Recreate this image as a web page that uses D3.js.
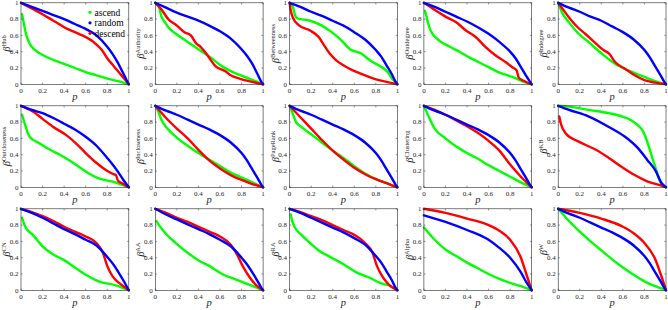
<!DOCTYPE html>
<html>
<head>
<meta charset="utf-8">
<script src="https://cdn.jsdelivr.net/npm/d3@7"></script>
<style>
  body { margin: 0; background: #fff; }
  svg { display: block; font-family: "Liberation Serif", "Times New Roman", serif; }
</style>
</head>
<body>
<svg id="chart" width="668" height="310"></svg>
<script>
// metric used for the ordering, one panel each (row by row)
const metrics = ['Hub', 'Authority', 'Betweenness', 'Outdegree', 'Indegree',
                 'Outcloseness', 'Incloseness', 'PageRank', 'Clustering', 'KB',
                 'CN', 'AA', 'RA', 'Alpha', 'W'];

const seriesNames = ['ascend', 'random', 'descend'];
const seriesColours = ['#00ff00', '#0000ff', '#ff0000'];

const tickValues = [0, 0.2, 0.4, 0.6, 0.8, 1];
const tickLabels = ['0', '0.2', '0.4', '0.6', '0.8', '1'];

// [p, beta] pairs, one list per panel
const ascendCurves = [
  [[0.01,0.86],[0.02,0.79],[0.03,0.72],[0.05,0.6],[0.08,0.5],[0.1,0.46],[0.15,0.4],[0.2,0.36],[0.3,0.3],[0.4,0.25],[0.5,0.2],[0.6,0.15],[0.7,0.11],[0.8,0.07],[0.9,0.04],[1,0]],
  [[0,1],[0.02,0.97],[0.04,0.93],[0.05,0.86],[0.07,0.8],[0.08,0.78],[0.12,0.7],[0.19,0.62],[0.3,0.52],[0.41,0.42],[0.5,0.34],[0.62,0.22],[0.75,0.13],[0.87,0.07],[1,0]],
  [[0,1],[0.03,0.95],[0.05,0.85],[0.07,0.81],[0.19,0.78],[0.3,0.72],[0.39,0.64],[0.48,0.54],[0.56,0.43],[0.66,0.38],[0.75,0.29],[0.83,0.23],[0.91,0.15],[0.95,0.07],[1,0]],
  [[0.01,0.9],[0.03,0.8],[0.05,0.7],[0.08,0.62],[0.14,0.54],[0.24,0.46],[0.33,0.4],[0.42,0.33],[0.51,0.27],[0.6,0.21],[0.69,0.15],[0.82,0.09],[0.91,0.04],[1,0]],
  [[0,1],[0.04,0.87],[0.1,0.76],[0.19,0.62],[0.28,0.52],[0.41,0.37],[0.53,0.25],[0.65,0.17],[0.8,0.09],[0.9,0.04],[1,0]],
  [[0.01,0.89],[0.04,0.76],[0.08,0.62],[0.17,0.54],[0.27,0.46],[0.36,0.4],[0.45,0.33],[0.54,0.25],[0.63,0.17],[0.72,0.11],[0.85,0.07],[1,0]],
  [[0,1],[0.03,0.92],[0.06,0.82],[0.1,0.74],[0.2,0.61],[0.3,0.51],[0.4,0.42],[0.5,0.34],[0.6,0.26],[0.7,0.18],[0.8,0.12],[0.9,0.06],[1,0]],
  [[0,1],[0.03,0.9],[0.06,0.8],[0.1,0.75],[0.2,0.65],[0.3,0.55],[0.4,0.45],[0.5,0.36],[0.6,0.26],[0.7,0.17],[0.8,0.1],[0.9,0.05],[1,0]],
  [[0,1],[0.05,0.85],[0.1,0.72],[0.2,0.6],[0.3,0.5],[0.4,0.42],[0.5,0.35],[0.6,0.27],[0.7,0.2],[0.8,0.13],[0.9,0.06],[1,0]],
  [[0,1],[0.1,0.99],[0.28,0.95],[0.47,0.91],[0.59,0.87],[0.68,0.82],[0.74,0.76],[0.79,0.68],[0.82,0.58],[0.85,0.46],[0.88,0.33],[0.91,0.21],[0.94,0.09],[0.97,0.02],[1,0]],
  [[0.01,0.89],[0.04,0.78],[0.11,0.68],[0.2,0.54],[0.3,0.44],[0.4,0.37],[0.51,0.27],[0.6,0.19],[0.72,0.11],[0.88,0.06],[1,0]],
  [[0.01,0.85],[0.04,0.79],[0.1,0.69],[0.19,0.58],[0.3,0.46],[0.41,0.36],[0.5,0.3],[0.62,0.2],[0.75,0.13],[0.87,0.07],[1,0]],
  [[0.01,0.93],[0.02,0.87],[0.05,0.77],[0.11,0.68],[0.19,0.58],[0.28,0.48],[0.39,0.4],[0.5,0.32],[0.62,0.22],[0.75,0.15],[0.84,0.09],[0.94,0.05],[1,0]],
  [[0,0.77],[0.1,0.62],[0.2,0.5],[0.3,0.42],[0.4,0.34],[0.5,0.27],[0.6,0.2],[0.7,0.14],[0.8,0.09],[0.9,0.05],[1,0]],
  [[0,1],[0.1,0.85],[0.2,0.72],[0.3,0.6],[0.4,0.49],[0.5,0.38],[0.6,0.28],[0.7,0.19],[0.8,0.11],[0.9,0.05],[1,0]]
];

const randomCurves = [
  [[0,1],[0.1,0.95],[0.2,0.9],[0.3,0.85],[0.4,0.8],[0.5,0.74],[0.6,0.68],[0.7,0.6],[0.8,0.46],[0.85,0.37],[0.9,0.26],[0.95,0.13],[0.98,0.05],[1,0]],
  [[0,1],[0.1,0.94],[0.2,0.88],[0.3,0.83],[0.4,0.78],[0.5,0.72],[0.6,0.65],[0.7,0.56],[0.8,0.43],[0.85,0.35],[0.9,0.25],[0.95,0.12],[0.98,0.04],[1,0]],
  [[0,1],[0.1,0.95],[0.2,0.89],[0.3,0.84],[0.4,0.78],[0.5,0.72],[0.6,0.64],[0.7,0.55],[0.8,0.42],[0.85,0.34],[0.9,0.23],[0.95,0.12],[0.98,0.04],[1,0]],
  [[0,1],[0.1,0.95],[0.2,0.89],[0.3,0.83],[0.4,0.77],[0.5,0.7],[0.6,0.62],[0.7,0.52],[0.8,0.4],[0.85,0.32],[0.9,0.21],[0.95,0.1],[0.98,0.04],[1,0]],
  [[0,1],[0.1,0.94],[0.2,0.89],[0.3,0.83],[0.4,0.78],[0.5,0.71],[0.6,0.64],[0.7,0.55],[0.8,0.42],[0.85,0.33],[0.9,0.22],[0.95,0.11],[0.98,0.04],[1,0]],
  [[0,1],[0.1,0.95],[0.2,0.91],[0.3,0.85],[0.4,0.78],[0.5,0.71],[0.6,0.62],[0.7,0.51],[0.8,0.36],[0.85,0.28],[0.9,0.19],[0.95,0.09],[1,0]],
  [[0,1],[0.1,0.94],[0.2,0.89],[0.3,0.83],[0.4,0.77],[0.5,0.71],[0.6,0.64],[0.7,0.55],[0.8,0.42],[0.85,0.33],[0.9,0.22],[0.95,0.11],[0.98,0.04],[1,0]],
  [[0,1],[0.1,0.94],[0.2,0.89],[0.3,0.83],[0.4,0.77],[0.5,0.71],[0.6,0.64],[0.7,0.55],[0.8,0.42],[0.85,0.33],[0.9,0.22],[0.95,0.11],[0.98,0.04],[1,0]],
  [[0,1],[0.1,0.94],[0.2,0.89],[0.3,0.83],[0.4,0.77],[0.5,0.71],[0.6,0.64],[0.7,0.55],[0.8,0.42],[0.85,0.33],[0.9,0.22],[0.95,0.11],[0.98,0.04],[1,0]],
  [[0,1],[0.1,0.95],[0.28,0.87],[0.47,0.74],[0.62,0.62],[0.74,0.48],[0.83,0.33],[0.9,0.21],[0.96,0.05],[1,0]],
  [[0,1],[0.1,0.95],[0.2,0.89],[0.3,0.82],[0.4,0.75],[0.5,0.69],[0.6,0.62],[0.7,0.55],[0.8,0.41],[0.85,0.33],[0.9,0.23],[0.95,0.12],[0.98,0.05],[1,0]],
  [[0,1],[0.1,0.93],[0.2,0.87],[0.3,0.81],[0.4,0.75],[0.5,0.69],[0.6,0.62],[0.7,0.54],[0.8,0.4],[0.85,0.32],[0.9,0.22],[0.95,0.11],[0.98,0.04],[1,0]],
  [[0,1],[0.1,0.95],[0.2,0.89],[0.3,0.83],[0.4,0.77],[0.5,0.71],[0.6,0.64],[0.7,0.56],[0.8,0.42],[0.85,0.34],[0.9,0.23],[0.95,0.12],[0.98,0.04],[1,0]],
  [[0,0.92],[0.2,0.84],[0.4,0.74],[0.6,0.62],[0.7,0.52],[0.8,0.4],[0.9,0.22],[0.95,0.1],[1,0]],
  [[0,1],[0.1,0.94],[0.2,0.89],[0.3,0.83],[0.4,0.77],[0.5,0.71],[0.6,0.64],[0.7,0.55],[0.8,0.42],[0.85,0.33],[0.9,0.22],[0.95,0.11],[0.98,0.04],[1,0]]
];

const descendCurves = [
  [[0,1],[0.1,0.93],[0.2,0.86],[0.3,0.78],[0.34,0.75],[0.4,0.7],[0.5,0.64],[0.57,0.6],[0.69,0.5],[0.75,0.42],[0.8,0.32],[0.85,0.24],[0.9,0.16],[0.95,0.08],[1,0]],
  [[0,1],[0.05,0.93],[0.12,0.8],[0.2,0.72],[0.27,0.64],[0.33,0.6],[0.38,0.5],[0.42,0.46],[0.47,0.38],[0.56,0.22],[0.65,0.16],[0.7,0.11],[0.78,0.07],[0.9,0.03],[1,0]],
  [[0,1],[0.01,0.91],[0.03,0.82],[0.09,0.72],[0.19,0.66],[0.27,0.58],[0.31,0.5],[0.37,0.38],[0.42,0.31],[0.53,0.21],[0.66,0.13],[0.78,0.07],[0.9,0.03],[1,0]],
  [[0,1],[0.08,0.93],[0.2,0.83],[0.3,0.76],[0.39,0.66],[0.48,0.58],[0.57,0.46],[0.66,0.36],[0.76,0.27],[0.82,0.21],[0.86,0.17],[0.88,0.08],[0.93,0.04],[1,0]],
  [[0,1],[0.05,0.91],[0.1,0.82],[0.18,0.7],[0.25,0.62],[0.35,0.5],[0.42,0.42],[0.47,0.38],[0.53,0.27],[0.62,0.19],[0.71,0.11],[0.8,0.05],[0.9,0.02],[1,0]],
  [[0,1],[0.11,0.93],[0.2,0.84],[0.3,0.74],[0.42,0.64],[0.51,0.54],[0.6,0.42],[0.69,0.31],[0.79,0.21],[0.86,0.16],[0.88,0.15],[0.9,0.08],[0.95,0.04],[1,0]],
  [[0,1],[0.1,0.85],[0.2,0.72],[0.3,0.6],[0.4,0.46],[0.5,0.33],[0.6,0.23],[0.7,0.15],[0.8,0.09],[0.9,0.04],[1,0]],
  [[0,1],[0.1,0.86],[0.2,0.72],[0.3,0.58],[0.4,0.45],[0.5,0.34],[0.6,0.24],[0.7,0.16],[0.8,0.1],[0.9,0.05],[1,0]],
  [[0,1],[0.1,0.95],[0.2,0.89],[0.3,0.82],[0.4,0.75],[0.5,0.67],[0.6,0.57],[0.7,0.45],[0.8,0.28],[0.9,0.13],[1,0]],
  [[0.01,0.87],[0.025,0.78],[0.07,0.66],[0.19,0.56],[0.35,0.46],[0.47,0.36],[0.59,0.25],[0.71,0.15],[0.83,0.07],[0.96,0.02],[1,0]],
  [[0,1],[0.1,0.96],[0.2,0.91],[0.3,0.85],[0.4,0.78],[0.5,0.72],[0.6,0.66],[0.7,0.58],[0.76,0.46],[0.8,0.3],[0.85,0.17],[0.91,0.09],[0.96,0.04],[1,0]],
  [[0,1],[0.1,0.95],[0.2,0.89],[0.3,0.84],[0.4,0.78],[0.5,0.72],[0.6,0.66],[0.7,0.56],[0.75,0.46],[0.81,0.3],[0.87,0.17],[0.93,0.07],[1,0]],
  [[0,1],[0.1,0.96],[0.2,0.91],[0.3,0.86],[0.4,0.8],[0.5,0.74],[0.6,0.68],[0.7,0.58],[0.77,0.46],[0.81,0.3],[0.86,0.17],[0.92,0.07],[1,0]],
  [[0,1],[0.2,0.95],[0.4,0.88],[0.6,0.8],[0.7,0.73],[0.8,0.62],[0.9,0.4],[0.95,0.2],[1,0]],
  [[0,1],[0.2,0.95],[0.4,0.88],[0.6,0.78],[0.7,0.7],[0.8,0.58],[0.9,0.38],[0.95,0.2],[1,0]]
];

class RobustnessPanel {
    constructor(_parent, _index, _left, _top, _width, _height) {
        this.parent = _parent;
        this.index = _index;
        this.width = _width;
        this.height = _height;
        this.g = _parent.append('g').attr('transform', `translate(${_left},${_top})`);
        this.populate();
    }

    populate() {
        const x = d3.scaleLinear().domain([0, 1]).range([0, this.width]);
        const y = d3.scaleLinear().domain([0, 1]).range([this.height, 0]);
        const axisColour = '#262626';
        const tickLen = 1.6;

        const line = d3.line()
            .x(d => x(d[0]))
            .y(d => y(d[1]))
            .curve(d3.curveMonotoneX);

        // drawn so that random ends up on top, like the original
        const curves = [
            {k: 0, data: ascendCurves[this.index]},
            {k: 2, data: descendCurves[this.index]},
            {k: 1, data: randomCurves[this.index]}
        ];
        this.g.selectAll('path.curve').data(curves).join('path')
            .attr('class', 'curve')
            .attr('d', d => line(d.data))
            .attr('fill', 'none')
            .attr('stroke', d => seriesColours[d.k])
            .attr('stroke-width', 2.4)
            .attr('stroke-linecap', 'round')
            .attr('stroke-linejoin', 'round');

        // box with inward ticks on every side
        this.g.append('rect')
            .attr('width', this.width).attr('height', this.height)
            .attr('fill', 'none').attr('stroke', axisColour).attr('stroke-width', 0.6);

        const ticks = this.g.append('g').attr('stroke', axisColour).attr('stroke-width', 0.5);
        tickValues.forEach(v => {
            ticks.append('line').attr('x1', x(v)).attr('x2', x(v)).attr('y1', this.height).attr('y2', this.height - tickLen);
            ticks.append('line').attr('x1', x(v)).attr('x2', x(v)).attr('y1', 0).attr('y2', tickLen);
            ticks.append('line').attr('y1', y(v)).attr('y2', y(v)).attr('x1', 0).attr('x2', tickLen);
            ticks.append('line').attr('y1', y(v)).attr('y2', y(v)).attr('x1', this.width).attr('x2', this.width - tickLen);
        });

        this.g.selectAll('text.xtick').data(tickValues).join('text')
            .attr('class', 'xtick')
            .attr('x', d => x(d)).attr('y', this.height + 8.5)
            .attr('text-anchor', 'middle')
            .attr('font-size', 7).attr('fill', axisColour)
            .text((d, i) => tickLabels[i]);

        this.g.selectAll('text.ytick').data(tickValues).join('text')
            .attr('class', 'ytick')
            .attr('x', -2.5).attr('y', d => y(d) + 2.4)
            .attr('text-anchor', 'end')
            .attr('font-size', 7).attr('fill', axisColour)
            .text((d, i) => tickLabels[i]);

        this.g.append('text')
            .attr('x', this.width / 2).attr('y', this.height + 15.5)
            .attr('text-anchor', 'middle')
            .attr('font-size', 10.5).attr('font-style', 'italic').attr('fill', axisColour)
            .text('p');

        const yLabel = this.g.append('text')
            .attr('transform', `translate(-11,${this.height / 2}) rotate(-90)`)
            .attr('text-anchor', 'middle')
            .attr('fill', axisColour);
        yLabel.append('tspan').attr('font-size', 10.5).attr('font-style', 'italic').text('β');
        yLabel.append('tspan').attr('font-size', 6.5).attr('dy', -4).text(metrics[this.index]);
    }

    legend() {
        const lg = this.g.append('g').attr('transform', 'translate(69,9.5)');
        seriesNames.forEach((name, i) => {
            const row = lg.append('g').attr('transform', `translate(0,${i * 10.5})`);
            row.append('circle').attr('r', 1.6).attr('fill', seriesColours[i]);
            row.append('text').attr('x', 4.5).attr('y', 3.2)
                .attr('font-size', 9.5).attr('fill', '#000').text(name);
        });
    }
}

const svg = d3.select('#chart');
const panels = metrics.map((m, i) => {
    const col = i % 5, row = Math.floor(i / 5);
    return new RobustnessPanel(svg, i, 21 + col * 134.3, 2.8 + row * 103, 107.8, 81.5);
});
panels[0].legend();
</script>
</body>
</html>
